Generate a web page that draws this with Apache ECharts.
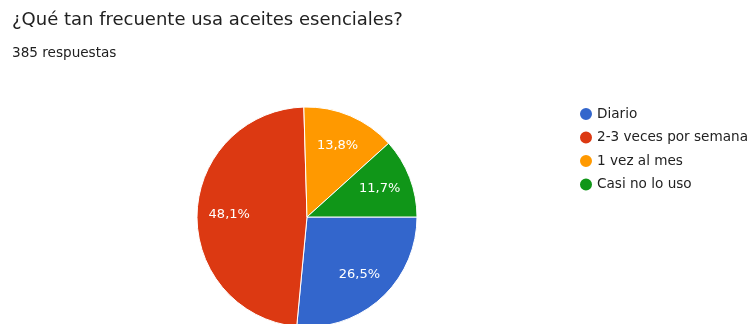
<!DOCTYPE html>
<html>
<head>
<meta charset="utf-8">
<script src="https://cdn.jsdelivr.net/npm/echarts@6/dist/echarts.min.js"></script>
<style>
  html, body { margin: 0; padding: 0; background: #fff; }
  #chart { width: 752px; height: 324px; }
</style>
</head>
<body>
<div id="chart"></div>
<script>
// Survey answers: how often essential oils are used
const categories = ['Diario', '2-3 veces por semana', '1 vez al mes', 'Casi no lo uso'];
const counts = [102, 185, 53, 45];
const colors = ['#3366cc', '#dc3912', '#ff9900', '#109618'];
const titleText = '¿Qué tan frecuente usa aceites esenciales?';
const totalResponses = counts.reduce((a, b) => a + b, 0);

const pieData = categories.map((name, i) => ({ name, value: counts[i] }));
const fmtPct = v => (v / totalResponses * 100).toFixed(1).replace('.', ',') + '%';

const FONT = 'DejaVu Sans';
const chart = echarts.init(document.getElementById('chart'), null, { renderer: 'canvas' });
const center = [307, 217];
const R = 110;

chart.setOption({
  animation: false,
  color: colors,
  title: [
    {
      text: titleText,
      left: 7, top: 6,
      textStyle: { fontFamily: FONT, fontSize: 18, fontWeight: 'normal', color: '#212121' }
    },
    {
      text: totalResponses + ' respuestas',
      left: 7, top: 41,
      textStyle: { fontFamily: FONT, fontSize: 13.6, fontWeight: 'normal', color: '#212121' }
    }
  ],
  legend: {
    orient: 'vertical',
    left: 573, top: 101,
    icon: 'circle',
    itemWidth: 14, itemHeight: 14,
    itemGap: 7.5,
    data: categories,
    textStyle: { fontFamily: FONT, fontSize: 13.6, color: '#222', padding: [0, 0, 0, -1] }
  },
  series: [
    {
      type: 'pie',
      center: center,
      radius: [0, R],
      startAngle: 0,
      clockwise: true,
      label: { show: false },
      labelLine: { show: false },
      itemStyle: { borderColor: '#fff', borderWidth: 1 },
      emphasis: { disabled: true },
      data: pieData
    },
    {
      // transparent twin that positions the percentage labels further out
      type: 'pie',
      center: center,
      radius: [0, R * 1.36],
      startAngle: 0,
      clockwise: true,
      silent: true,
      itemStyle: { color: 'rgba(0,0,0,0)' },
      label: {
        show: true,
        position: 'inside',
        color: '#fff',
        fontFamily: FONT,
        fontSize: 13,
        formatter: p => fmtPct(p.value)
      },
      labelLine: { show: false },
      emphasis: { disabled: true },
      data: pieData
    }
  ]
});
</script>
</body>
</html>
